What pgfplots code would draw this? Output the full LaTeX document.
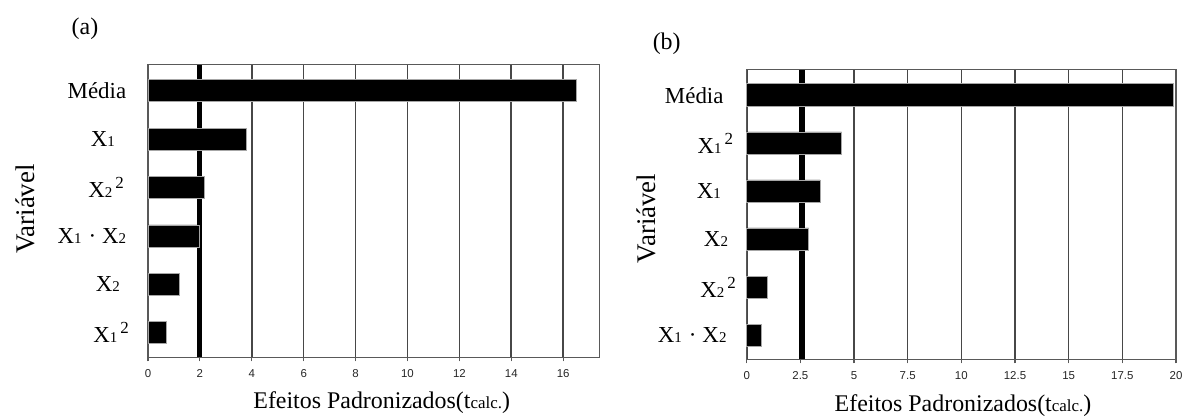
\documentclass[border=0pt]{standalone}
\usepackage{fontspec}
\setmainfont{Liberation Serif}
\newfontfamily\sansf{Liberation Sans}
\usepackage{pgfplots}
\pgfplotsset{compat=1.18}

\newcommand{\sub}[1]{{\fontsize{15}{15}\selectfont #1}}
\newcommand{\sq}{\hspace{3bp}\raisebox{9bp}{\fontsize{17}{17}\selectfont 2}}
\newcommand{\lbl}{\fontsize{23}{26}\selectfont}

\pgfplotsset{
  effstyle/.style={
    scale only axis,
    anchor=south west,
    axis line style={draw=black!65, line width=1.3bp},
    xmajorgrids,
    grid style={draw=black!72, line width=1.6bp},
    tick align=outside,
    xtick pos=left,
    major tick length=4bp,
    xtick style={draw=black!65, line width=1.1bp},
    ytick={0,1,2,3,4,5},
    ytick style={draw=none},
    yticklabel style={anchor=east, inner sep=0pt, font=\lbl},
    xticklabel style={anchor=north, inner sep=0pt, yshift=-8.5bp, font=\sansf\fontsize{11.5}{11.5}\selectfont, text=black!85},
    /pgf/number format/assume math mode=true,
    clip=false,
  }
}

\pgfplotstableread{
y v
5 16.5
4 3.78
3 2.16
2 2.00
1 1.22
0 0.69
}\dataA

\pgfplotstableread{
y v
5 19.9
4 4.42
3 3.42
2 2.88
1 0.95
0 0.67
}\dataB

\begin{document}
\begin{tikzpicture}
\useasboundingbox (0,0) rectangle (1187bp,419bp);

% Panel (a)
\begin{axis}[effstyle,
  at={(148bp,61.7bp)}, width=451.5bp, height=292.6bp,
  xmin=0, xmax=17.4, ymin=-0.51, ymax=5.54,
  xtick={0,2,4,6,8,10,12,14,16},
  yticklabels={
    {X\sub{1}\sq\hspace*{15bp}},
    {X\sub{2}\hspace*{24bp}},
    {X\sub{1}\hspace{7bp}·\hspace{6bp}X\sub{2}\hspace*{17.6bp}},
    {X\sub{2}\sq\hspace*{20bp}},
    {X\sub{1}\hspace*{29bp}},
    {Média\hspace*{17.6bp}}},
]
\addplot[black, line width=5bp, sharp plot, forget plot] coordinates {(2.0,-0.51) (2.0,5.54)};
\addplot[xbar, bar width=22bp, fill=black, draw=black!35, line width=0.8bp] table[x=v, y=y] {\dataA};
\end{axis}

% Panel (b)
\begin{axis}[effstyle,
  at={(746.7bp,59.7bp)}, width=429.3bp, height=289.6bp,
  xmin=0, xmax=20, ymin=-0.5, ymax=5.53,
  xtick={0,2.5,5,7.5,10,12.5,15,17.5,20},
  xticklabels={0,2.5,5,7.5,10,12.5,15,17.5,20},
  yticklabels={
    {X\sub{1}\hspace{7bp}·\hspace{6bp}X\sub{2}\hspace*{16bp}},
    {X\sub{2}\sq\hspace*{6.7bp}},
    {X\sub{2}\hspace*{14.5bp}},
    {X\sub{1}\hspace*{21.6bp}},
    {X\sub{1}\sq\hspace*{9.5bp}},
    {Média\hspace*{19bp}}},
]
\addplot[black, line width=5.5bp, sharp plot, forget plot] coordinates {(2.58,-0.5) (2.58,5.53)};
\addplot[xbar, bar width=22.5bp, fill=black, draw=black!35, line width=0.8bp] table[x=v, y=y] {\dataB};
\end{axis}

% Labels
\node[font=\fontsize{24}{26}\selectfont, inner sep=0pt] at (85bp,390.7bp) {(a)};
\node[font=\fontsize{24}{26}\selectfont, inner sep=0pt] at (666.7bp,375.7bp) {(b)};
\node[font=\fontsize{27}{30}\selectfont, inner sep=0pt, rotate=90] at (25bp,210bp) {Variável};
\node[font=\fontsize{27}{30}\selectfont, inner sep=0pt, rotate=90] at (646bp,200.5bp) {Variável};
\node[font=\fontsize{24}{26}\selectfont, inner sep=0pt] at (381.7bp,16bp) {Efeitos Padronizados(t{\fontsize{17}{17}\selectfont calc.})};
\node[font=\fontsize{24}{26}\selectfont, inner sep=0pt] at (963bp,13bp) {Efeitos Padronizados(t{\fontsize{17}{17}\selectfont calc.})};
\end{tikzpicture}
\end{document}
